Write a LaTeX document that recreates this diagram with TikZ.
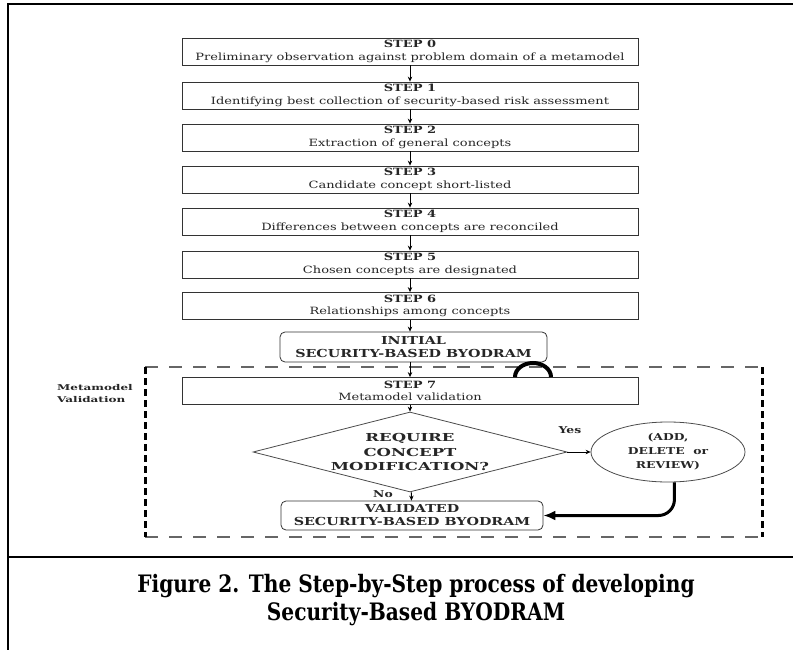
\documentclass[tikz,border=0pt]{standalone}
\usepackage{fontspec}
\setmainfont{DejaVu Serif}
\newfontfamily\dfont[FakeStretch=1.3]{DejaVu Serif}
\newfontfamily\wfont[FakeStretch=1.5]{DejaVu Serif}
\newfontfamily\capfont[FakeStretch=0.84]{DejaVu Serif}
\usetikzlibrary{shapes.geometric,arrows.meta,calc}
\begin{document}
\begin{tikzpicture}[x=1pt,y=-1pt,
  stepbox/.style={draw=black!80, line width=0.8pt, minimum width=456pt, minimum height=27pt,
    inner sep=0pt, align=center, text=black!85, font=\dfont\fontsize{10}{12.5}\selectfont},
  rbox/.style={draw=black!80, rounded corners=5pt, line width=0.8pt, minimum height=30pt,
    inner sep=0pt, align=center, text=black!85, font=\dfont\bfseries\fontsize{11}{13}\selectfont},
  boldtxt/.style={align=center, inner sep=0pt, text=black!85, font=\dfont\bfseries\fontsize{9.5}{14}\selectfont},
  diatxt/.style={align=center, inner sep=0pt, text=black!85, font=\wfont\bfseries\fontsize{11}{14.5}\selectfont},
  flow/.style={-{Stealth[length=5pt,width=4.5pt]}, line width=0.9pt},
  bigflow/.style={-{Latex[length=12pt,width=10pt]}, line width=3pt, rounded corners=16pt},
  graydash/.style={draw=black!60, line width=2pt, dash pattern=on 13pt off 11pt},
  blackdash/.style={draw=black, line width=3pt, dash pattern=on 7pt off 4pt},
  frame/.style={line width=2pt}
]
\fill[white] (0,0) rectangle (793,650);
\useasboundingbox (0,0) rectangle (793,650);

% outer frame
\coordinate (fTR) at (793,4);
\coordinate (fTL) at (8,4);
\coordinate (fBL) at (8,650);
\coordinate (cL) at (8,557);
\coordinate (cR) at (793,557);
\draw[frame] (fTR) -- (fTL) -- (fBL);
\draw[frame] (cL) -- (cR);

% steps
\node[stepbox] (s0) at (410,51.5) {{\bfseries STEP 0}\\Preliminary observation against problem domain of a metamodel};
\node[stepbox] (s1) at (410,95.5) {{\bfseries STEP 1}\\Identifying best collection of security-based risk assessment};
\node[stepbox] (s2) at (410,137.5) {{\bfseries STEP 2}\\Extraction of general concepts};
\node[stepbox] (s3) at (410,179.5) {{\bfseries STEP 3}\\Candidate concept short-listed};
\node[stepbox] (s4) at (410,221.5) {{\bfseries STEP 4}\\Differences between concepts are reconciled};
\node[stepbox] (s5) at (410,264.5) {{\bfseries STEP 5}\\Chosen concepts are designated};
\node[stepbox] (s6) at (410,306) {{\bfseries STEP 6}\\Relationships among concepts};
\node[rbox, minimum width=267pt] (init) at (413.5,347) {INITIAL\\SECURITY-BASED BYODRAM};

% validation frame
\coordinate (bTL) at (145,367);
\coordinate (bTR) at (762,367);
\coordinate (bBL) at (145,537);
\coordinate (bBR) at (762,537);
\draw[graydash] (bTL) -- (bTR);
\draw[graydash] (bBL) -- (bBR);
\draw[blackdash] (bTL) -- (bBL);
\draw[blackdash] (bTR) -- (bBR);
\node[boldtxt, anchor=west, align=left, font=\wfont\bfseries\fontsize{8}{12}\selectfont] (mv) at (57,394) {Metamodel\\Validation};

\node[stepbox] (s7) at (410,391) {{\bfseries STEP 7}\\Metamodel validation};
\node[draw=black!70, line width=0.8pt, diamond, minimum width=314pt, minimum height=80pt, inner sep=0pt] (q) at (410,452) {};
\node[diatxt] (qt) at (q.center) {REQUIRE\\CONCEPT\\MODIFICATION?};
\node[draw=black!70, line width=0.8pt, ellipse, minimum width=154pt, minimum height=60pt, inner sep=0pt, boldtxt] (e) at (668,452) {(ADD,\\DELETE\ \ or\\REVIEW)};
\node[rbox, minimum width=262pt, minimum height=29pt] (v) at (412,515.5) {VALIDATED\\SECURITY-BASED BYODRAM};

\node[boldtxt] (yes) at (570,430) {Yes};
\node[boldtxt] (no) at (383,494) {No};

% connectors
\draw[flow] (s0) -- (s1);
\draw[flow] (s1) -- (s2);
\draw[flow] (s2) -- (s3);
\draw[flow] (s3) -- (s4);
\draw[flow] (s4) -- (s5);
\draw[flow] (s5) -- (s6);
\draw[flow] (s6.south) -- (s6.south |- init.north);
\draw[flow] (init.south -| s7.north) -- (s7.north);
\draw[flow] (s7) -- (q);
\draw[flow] (q) -- (v);
\draw[flow] (q.east) -- (e.west);
\draw[bigflow] (e.-78) |- (v.east);

% hop arc
\coordinate (hop) at (515,377);
\draw[line width=4pt] (hop) arc[start angle=180, end angle=360, x radius=18, y radius=14];

% caption
\node[align=center, font=\capfont\bfseries\fontsize{24}{28}\selectfont] (cap) at (416,600)
  {Figure 2. The Step-by-Step process of developing\\Security-Based BYODRAM};
\end{tikzpicture}
\end{document}
